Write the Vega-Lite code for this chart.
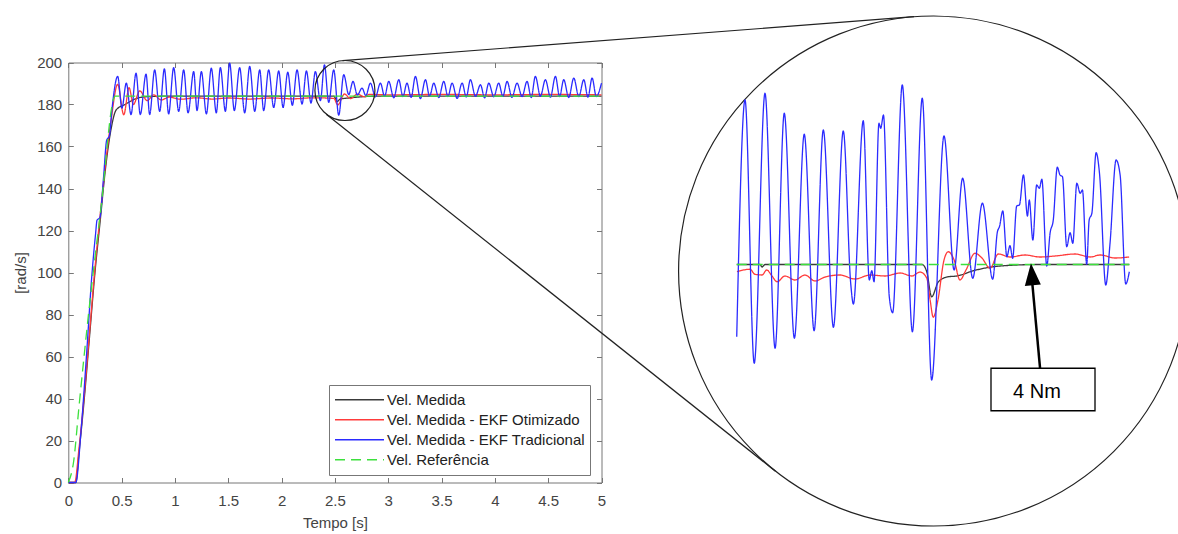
{
  "$schema": "https://vega.github.io/schema/vega-lite/v6.json",
  "width": 1178,
  "height": 534,
  "padding": 0,
  "autosize": {"type": "none"},
  "background": "white",
  "config": {
    "view": {"stroke": null},
    "font": "Liberation Sans",
    "axis": {"grid": false, "labelFont": "Liberation Sans", "titleFont": "Liberation Sans", "labelColor": "#444", "titleColor": "#444", "domainColor": "#777", "tickColor": "#777", "titleFontWeight": "normal", "labelFlush": false, "labelOverlap": false, "domainWidth": 1, "tickWidth": 1},
    "legend": {"padding": 5, "strokeColor": "#777", "fillColor": "white", "symbolType": "stroke", "symbolSize": 2401, "symbolStrokeWidth": 1.5, "labelFontSize": 15, "labelColor": "#222", "labelFont": "Liberation Sans", "rowPadding": 0, "labelOffset": 2, "labelLimit": 400, "clipHeight": 19.7}
  },
  "datasets": {
    "main": [
      {"s":"Vel. Medida","t":0,"v":0},{"s":"Vel. Medida","t":0.07,"v":0},{"s":"Vel. Medida","t":0.1,"v":14},{"s":"Vel. Medida","t":0.15,"v":40},{"s":"Vel. Medida","t":0.2,"v":70},{"s":"Vel. Medida","t":0.25,"v":100},{"s":"Vel. Medida","t":0.3,"v":125},{"s":"Vel. Medida","t":0.35,"v":150},{"s":"Vel. Medida","t":0.4,"v":168},{"s":"Vel. Medida","t":0.45,"v":177.5},{"s":"Vel. Medida","t":0.535,"v":180.1},{"s":"Vel. Medida","t":0.62,"v":182.5},{"s":"Vel. Medida","t":0.73,"v":183.7},{"s":"Vel. Medida","t":1.0,"v":184},{"s":"Vel. Medida","t":2.49,"v":184},{"s":"Vel. Medida","t":2.5,"v":183.4},{"s":"Vel. Medida","t":2.52,"v":181.4},{"s":"Vel. Medida","t":2.55,"v":182.6},{"s":"Vel. Medida","t":2.63,"v":183.1},{"s":"Vel. Medida","t":2.71,"v":183.5},{"s":"Vel. Medida","t":2.83,"v":183.9},{"s":"Vel. Medida","t":3.0,"v":184},{"s":"Vel. Medida","t":5.0,"v":184},
      {"s":"Vel. Medida - EKF Otimizado","t":0,"v":0},{"s":"Vel. Medida - EKF Otimizado","t":0.06,"v":0},{"s":"Vel. Medida - EKF Otimizado","t":0.1,"v":16},{"s":"Vel. Medida - EKF Otimizado","t":0.15,"v":42},{"s":"Vel. Medida - EKF Otimizado","t":0.2,"v":72},{"s":"Vel. Medida - EKF Otimizado","t":0.25,"v":102},{"s":"Vel. Medida - EKF Otimizado","t":0.3,"v":128},{"s":"Vel. Medida - EKF Otimizado","t":0.35,"v":152},{"s":"Vel. Medida - EKF Otimizado","t":0.4,"v":172},{"s":"Vel. Medida - EKF Otimizado","t":0.463,"v":189.6},{"s":"Vel. Medida - EKF Otimizado","t":0.52,"v":175.1},{"s":"Vel. Medida - EKF Otimizado","t":0.57,"v":188},{"s":"Vel. Medida - EKF Otimizado","t":0.61,"v":180},{"s":"Vel. Medida - EKF Otimizado","t":0.67,"v":186.5},{"s":"Vel. Medida - EKF Otimizado","t":0.74,"v":181.8},{"s":"Vel. Medida - EKF Otimizado","t":0.8,"v":184.6},{"s":"Vel. Medida - EKF Otimizado","t":0.87,"v":182.2},{"s":"Vel. Medida - EKF Otimizado","t":0.95,"v":183.5},{"s":"Vel. Medida - EKF Otimizado","t":1.05,"v":182.5},{"s":"Vel. Medida - EKF Otimizado","t":1.2,"v":183.2},{"s":"Vel. Medida - EKF Otimizado","t":1.35,"v":182.6},{"s":"Vel. Medida - EKF Otimizado","t":1.5,"v":183.1},{"s":"Vel. Medida - EKF Otimizado","t":1.7,"v":182.6},{"s":"Vel. Medida - EKF Otimizado","t":1.9,"v":183.1},{"s":"Vel. Medida - EKF Otimizado","t":2.1,"v":182.7},{"s":"Vel. Medida - EKF Otimizado","t":2.3,"v":183.2},{"s":"Vel. Medida - EKF Otimizado","t":2.49,"v":182.9},{"s":"Vel. Medida - EKF Otimizado","t":2.527,"v":179.8},{"s":"Vel. Medida - EKF Otimizado","t":2.59,"v":185},{"s":"Vel. Medida - EKF Otimizado","t":2.645,"v":182.8},{"s":"Vel. Medida - EKF Otimizado","t":2.71,"v":184.9},{"s":"Vel. Medida - EKF Otimizado","t":2.78,"v":183.7},{"s":"Vel. Medida - EKF Otimizado","t":2.82,"v":184.8},{"s":"Vel. Medida - EKF Otimizado","t":3.0,"v":184.6},{"s":"Vel. Medida - EKF Otimizado","t":3.5,"v":184.8},{"s":"Vel. Medida - EKF Otimizado","t":4.0,"v":184.6},{"s":"Vel. Medida - EKF Otimizado","t":4.5,"v":184.8},{"s":"Vel. Medida - EKF Otimizado","t":5.0,"v":184.6},
      {"s":"Vel. Medida - EKF Tradicional","t":0,"v":0},{"s":"Vel. Medida - EKF Tradicional","t":0.07,"v":0},{"s":"Vel. Medida - EKF Tradicional","t":0.12,"v":25},{"s":"Vel. Medida - EKF Tradicional","t":0.17,"v":60},{"s":"Vel. Medida - EKF Tradicional","t":0.22,"v":98},{"s":"Vel. Medida - EKF Tradicional","t":0.255,"v":118},{"s":"Vel. Medida - EKF Tradicional","t":0.27,"v":125},{"s":"Vel. Medida - EKF Tradicional","t":0.295,"v":126},{"s":"Vel. Medida - EKF Tradicional","t":0.33,"v":145},{"s":"Vel. Medida - EKF Tradicional","t":0.36,"v":163},{"s":"Vel. Medida - EKF Tradicional","t":0.385,"v":165},{"s":"Vel. Medida - EKF Tradicional","t":0.41,"v":178},{"s":"Vel. Medida - EKF Tradicional","t":0.463,"v":193.4},
      {"s":"Vel. Medida - EKF Tradicional","t":0.503,"v":178.3},{"s":"Vel. Medida - EKF Tradicional","t":0.544,"v":190.2},{"s":"Vel. Medida - EKF Tradicional","t":0.588,"v":175.2},{"s":"Vel. Medida - EKF Tradicional","t":0.635,"v":194.9},{"s":"Vel. Medida - EKF Tradicional","t":0.675,"v":175.2},{"s":"Vel. Medida - EKF Tradicional","t":0.729,"v":194.5},{"s":"Vel. Medida - EKF Tradicional","t":0.763,"v":175.2},{"s":"Vel. Medida - EKF Tradicional","t":0.81,"v":196.5},{"s":"Vel. Medida - EKF Tradicional","t":0.857,"v":176.7},{"s":"Vel. Medida - EKF Tradicional","t":0.901,"v":197.0},{"s":"Vel. Medida - EKF Tradicional","t":0.941,"v":175.5},{"s":"Vel. Medida - EKF Tradicional","t":0.988,"v":197.6},{"s":"Vel. Medida - EKF Tradicional","t":1.035,"v":176.7},{"s":"Vel. Medida - EKF Tradicional","t":1.082,"v":196.5},{"s":"Vel. Medida - EKF Tradicional","t":1.123,"v":176.0},{"s":"Vel. Medida - EKF Tradicional","t":1.176,"v":195.7},{"s":"Vel. Medida - EKF Tradicional","t":1.207,"v":177.1},{"s":"Vel. Medida - EKF Tradicional","t":1.248,"v":195.7},{"s":"Vel. Medida - EKF Tradicional","t":1.295,"v":175.5},{"s":"Vel. Medida - EKF Tradicional","t":1.341,"v":197.3},{"s":"Vel. Medida - EKF Tradicional","t":1.388,"v":176.0},{"s":"Vel. Medida - EKF Tradicional","t":1.426,"v":197.6},{"s":"Vel. Medida - EKF Tradicional","t":1.473,"v":176.7},{"s":"Vel. Medida - EKF Tradicional","t":1.513,"v":199.7},{"s":"Vel. Medida - EKF Tradicional","t":1.557,"v":177.1},{"s":"Vel. Medida - EKF Tradicional","t":1.607,"v":197.6},{"s":"Vel. Medida - EKF Tradicional","t":1.654,"v":176.0},{"s":"Vel. Medida - EKF Tradicional","t":1.701,"v":198.1},{"s":"Vel. Medida - EKF Tradicional","t":1.748,"v":176.7},{"s":"Vel. Medida - EKF Tradicional","t":1.795,"v":196.5},{"s":"Vel. Medida - EKF Tradicional","t":1.832,"v":177.1},{"s":"Vel. Medida - EKF Tradicional","t":1.879,"v":196.5},{"s":"Vel. Medida - EKF Tradicional","t":1.926,"v":178.6},{"s":"Vel. Medida - EKF Tradicional","t":1.973,"v":196.0},{"s":"Vel. Medida - EKF Tradicional","t":2.014,"v":178.6},{"s":"Vel. Medida - EKF Tradicional","t":2.058,"v":195.4},{"s":"Vel. Medida - EKF Tradicional","t":2.101,"v":179.6},{"s":"Vel. Medida - EKF Tradicional","t":2.145,"v":196.5},{"s":"Vel. Medida - EKF Tradicional","t":2.192,"v":180.2},{"s":"Vel. Medida - EKF Tradicional","t":2.233,"v":196.0},{"s":"Vel. Medida - EKF Tradicional","t":2.276,"v":180.7},{"s":"Vel. Medida - EKF Tradicional","t":2.317,"v":195.7},{"s":"Vel. Medida - EKF Tradicional","t":2.364,"v":181.8},{"s":"Vel. Medida - EKF Tradicional","t":2.402,"v":198.9},{"s":"Vel. Medida - EKF Tradicional","t":2.442,"v":181.0},{"s":"Vel. Medida - EKF Tradicional","t":2.489,"v":196.5},{"s":"Vel. Medida - EKF Tradicional","t":2.536,"v":174.9},{"s":"Vel. Medida - EKF Tradicional","t":2.583,"v":194.2},{"s":"Vel. Medida - EKF Tradicional","t":2.63,"v":184.7},{"s":"Vel. Medida - EKF Tradicional","t":2.67,"v":191.0},{"s":"Vel. Medida - EKF Tradicional","t":2.71,"v":184.5},{"s":"Vel. Medida - EKF Tradicional","t":2.755,"v":187.8},{"s":"Vel. Medida - EKF Tradicional","t":2.79,"v":184.2},{"s":"Vel. Medida - EKF Tradicional","t":2.833,"v":190.2},{"s":"Vel. Medida - EKF Tradicional","t":2.88,"v":183.6},{"s":"Vel. Medida - EKF Tradicional","t":2.927,"v":190.2},{"s":"Vel. Medida - EKF Tradicional","t":2.966,"v":183.9},{"s":"Vel. Medida - EKF Tradicional","t":3.005,"v":191.0},{"s":"Vel. Medida - EKF Tradicional","t":3.052,"v":183.2},{"s":"Vel. Medida - EKF Tradicional","t":3.099,"v":191.8},{"s":"Vel. Medida - EKF Tradicional","t":3.138,"v":183.8},{"s":"Vel. Medida - EKF Tradicional","t":3.176,"v":190.2},{"s":"Vel. Medida - EKF Tradicional","t":3.215,"v":183.4},{"s":"Vel. Medida - EKF Tradicional","t":3.255,"v":193.4},{"s":"Vel. Medida - EKF Tradicional","t":3.302,"v":182.8},{"s":"Vel. Medida - EKF Tradicional","t":3.349,"v":191.8},{"s":"Vel. Medida - EKF Tradicional","t":3.388,"v":183.9},{"s":"Vel. Medida - EKF Tradicional","t":3.427,"v":190.2},{"s":"Vel. Medida - EKF Tradicional","t":3.474,"v":183.3},{"s":"Vel. Medida - EKF Tradicional","t":3.521,"v":191.0},{"s":"Vel. Medida - EKF Tradicional","t":3.56,"v":183.8},{"s":"Vel. Medida - EKF Tradicional","t":3.599,"v":190.2},{"s":"Vel. Medida - EKF Tradicional","t":3.646,"v":182.9},{"s":"Vel. Medida - EKF Tradicional","t":3.693,"v":190.2},{"s":"Vel. Medida - EKF Tradicional","t":3.732,"v":183.6},{"s":"Vel. Medida - EKF Tradicional","t":3.771,"v":191.8},{"s":"Vel. Medida - EKF Tradicional","t":3.818,"v":183.9},{"s":"Vel. Medida - EKF Tradicional","t":3.865,"v":189.4},{"s":"Vel. Medida - EKF Tradicional","t":3.904,"v":183.2},{"s":"Vel. Medida - EKF Tradicional","t":3.943,"v":190.2},{"s":"Vel. Medida - EKF Tradicional","t":3.99,"v":183.7},{"s":"Vel. Medida - EKF Tradicional","t":4.036,"v":190.2},{"s":"Vel. Medida - EKF Tradicional","t":4.075,"v":183.9},{"s":"Vel. Medida - EKF Tradicional","t":4.115,"v":191.0},{"s":"Vel. Medida - EKF Tradicional","t":4.16,"v":183.4},{"s":"Vel. Medida - EKF Tradicional","t":4.208,"v":190.2},{"s":"Vel. Medida - EKF Tradicional","t":4.255,"v":183.8},{"s":"Vel. Medida - EKF Tradicional","t":4.302,"v":191.0},{"s":"Vel. Medida - EKF Tradicional","t":4.341,"v":183.3},{"s":"Vel. Medida - EKF Tradicional","t":4.38,"v":193.4},{"s":"Vel. Medida - EKF Tradicional","t":4.427,"v":183.9},{"s":"Vel. Medida - EKF Tradicional","t":4.474,"v":191.8},{"s":"Vel. Medida - EKF Tradicional","t":4.521,"v":183.5},{"s":"Vel. Medida - EKF Tradicional","t":4.568,"v":193.4},{"s":"Vel. Medida - EKF Tradicional","t":4.607,"v":183.8},{"s":"Vel. Medida - EKF Tradicional","t":4.646,"v":191.8},{"s":"Vel. Medida - EKF Tradicional","t":4.693,"v":183.3},{"s":"Vel. Medida - EKF Tradicional","t":4.74,"v":192.6},{"s":"Vel. Medida - EKF Tradicional","t":4.787,"v":183.8},{"s":"Vel. Medida - EKF Tradicional","t":4.834,"v":191.8},{"s":"Vel. Medida - EKF Tradicional","t":4.873,"v":183.5},{"s":"Vel. Medida - EKF Tradicional","t":4.912,"v":192.6},{"s":"Vel. Medida - EKF Tradicional","t":4.951,"v":183.8},{"s":"Vel. Medida - EKF Tradicional","t":5.0,"v":190.2},
      {"s":"Vel. Referência","t":0,"v":0},{"s":"Vel. Referência","t":0.05,"v":10},{"s":"Vel. Referência","t":0.1,"v":36},{"s":"Vel. Referência","t":0.2,"v":85},{"s":"Vel. Referência","t":0.3,"v":128},{"s":"Vel. Referência","t":0.44,"v":184},{"s":"Vel. Referência","t":5.0,"v":184}
    ],
    "inset": [
      {"s":"Vel. Medida","t":1.651,"v":184},{"s":"Vel. Medida","t":1.755,"v":184},{"s":"Vel. Medida","t":1.764,"v":183.8},{"s":"Vel. Medida","t":1.777,"v":184},{"s":"Vel. Medida","t":2.477,"v":184},{"s":"Vel. Medida","t":2.498,"v":183.42},{"s":"Vel. Medida","t":2.52,"v":181.42},{"s":"Vel. Medida","t":2.55,"v":182.62},{"s":"Vel. Medida","t":2.594,"v":183.02},{"s":"Vel. Medida","t":2.632,"v":183.08},{"s":"Vel. Medida","t":2.706,"v":183.5},{"s":"Vel. Medida","t":2.825,"v":183.88},{"s":"Vel. Medida","t":3.003,"v":184},{"s":"Vel. Medida","t":3.401,"v":184},
      {"s":"Vel. Medida - EKF Otimizado","t":1.652,"v":183.42},{"s":"Vel. Medida - EKF Otimizado","t":1.71,"v":183.62},{"s":"Vel. Medida - EKF Otimizado","t":1.732,"v":183.22},{"s":"Vel. Medida - EKF Otimizado","t":1.764,"v":183.16},{"s":"Vel. Medida - EKF Otimizado","t":1.785,"v":183.56},{"s":"Vel. Medida - EKF Otimizado","t":1.808,"v":183.08},{"s":"Vel. Medida - EKF Otimizado","t":1.831,"v":182.62},{"s":"Vel. Medida - EKF Otimizado","t":1.866,"v":183.08},{"s":"Vel. Medida - EKF Otimizado","t":1.911,"v":182.76},{"s":"Vel. Medida - EKF Otimizado","t":1.955,"v":183.16},{"s":"Vel. Medida - EKF Otimizado","t":2.0,"v":182.68},{"s":"Vel. Medida - EKF Otimizado","t":2.045,"v":183.0},{"s":"Vel. Medida - EKF Otimizado","t":2.111,"v":183.16},{"s":"Vel. Medida - EKF Otimizado","t":2.178,"v":182.84},{"s":"Vel. Medida - EKF Otimizado","t":2.245,"v":183.16},{"s":"Vel. Medida - EKF Otimizado","t":2.312,"v":183.08},{"s":"Vel. Medida - EKF Otimizado","t":2.379,"v":183.32},{"s":"Vel. Medida - EKF Otimizado","t":2.432,"v":183.08},{"s":"Vel. Medida - EKF Otimizado","t":2.468,"v":183.4},{"s":"Vel. Medida - EKF Otimizado","t":2.498,"v":182.92},{"s":"Vel. Medida - EKF Otimizado","t":2.513,"v":181.16},{"s":"Vel. Medida - EKF Otimizado","t":2.527,"v":179.78},{"s":"Vel. Medida - EKF Otimizado","t":2.548,"v":181.16},{"s":"Vel. Medida - EKF Otimizado","t":2.575,"v":184.36},{"s":"Vel. Medida - EKF Otimizado","t":2.594,"v":185.02},{"s":"Vel. Medida - EKF Otimizado","t":2.62,"v":184.36},{"s":"Vel. Medida - EKF Otimizado","t":2.646,"v":182.76},{"s":"Vel. Medida - EKF Otimizado","t":2.673,"v":183.56},{"s":"Vel. Medida - EKF Otimizado","t":2.713,"v":184.9},{"s":"Vel. Medida - EKF Otimizado","t":2.744,"v":184.52},{"s":"Vel. Medida - EKF Otimizado","t":2.78,"v":183.7},{"s":"Vel. Medida - EKF Otimizado","t":2.817,"v":184.84},{"s":"Vel. Medida - EKF Otimizado","t":2.869,"v":184.6},{"s":"Vel. Medida - EKF Otimizado","t":2.936,"v":184.76},{"s":"Vel. Medida - EKF Otimizado","t":3.003,"v":184.6},{"s":"Vel. Medida - EKF Otimizado","t":3.07,"v":184.68},{"s":"Vel. Medida - EKF Otimizado","t":3.159,"v":184.84},{"s":"Vel. Medida - EKF Otimizado","t":3.226,"v":184.6},{"s":"Vel. Medida - EKF Otimizado","t":3.271,"v":184.76},{"s":"Vel. Medida - EKF Otimizado","t":3.338,"v":184.52},{"s":"Vel. Medida - EKF Otimizado","t":3.4,"v":184.6},
      {"s":"Vel. Medida - EKF Tradicional","t":1.651,"v":178.22},{"s":"Vel. Medida - EKF Tradicional","t":1.688,"v":197.16},{"s":"Vel. Medida - EKF Tradicional","t":1.729,"v":176.1},{"s":"Vel. Medida - EKF Tradicional","t":1.777,"v":197.7},{"s":"Vel. Medida - EKF Tradicional","t":1.822,"v":177.3},{"s":"Vel. Medida - EKF Tradicional","t":1.863,"v":196.1},{"s":"Vel. Medida - EKF Tradicional","t":1.908,"v":178.1},{"s":"Vel. Medida - EKF Tradicional","t":1.952,"v":194.42},{"s":"Vel. Medida - EKF Tradicional","t":1.996,"v":178.7},{"s":"Vel. Medida - EKF Tradicional","t":2.037,"v":194.76},{"s":"Vel. Medida - EKF Tradicional","t":2.082,"v":178.98},{"s":"Vel. Medida - EKF Tradicional","t":2.126,"v":194.68},{"s":"Vel. Medida - EKF Tradicional","t":2.159,"v":182.5},{"s":"Vel. Medida - EKF Tradicional","t":2.171,"v":180.84},{"s":"Vel. Medida - EKF Tradicional","t":2.215,"v":195.5},{"s":"Vel. Medida - EKF Tradicional","t":2.242,"v":182.76},{"s":"Vel. Medida - EKF Tradicional","t":2.253,"v":183.5},{"s":"Vel. Medida - EKF Tradicional","t":2.263,"v":182.62},{"s":"Vel. Medida - EKF Tradicional","t":2.285,"v":195.3},{"s":"Vel. Medida - EKF Tradicional","t":2.293,"v":194.9},{"s":"Vel. Medida - EKF Tradicional","t":2.305,"v":195.96},{"s":"Vel. Medida - EKF Tradicional","t":2.331,"v":181.42},{"s":"Vel. Medida - EKF Tradicional","t":2.346,"v":180.14},{"s":"Vel. Medida - EKF Tradicional","t":2.389,"v":198.36},{"s":"Vel. Medida - EKF Tradicional","t":2.434,"v":178.62},{"s":"Vel. Medida - EKF Tradicional","t":2.478,"v":197.3},{"s":"Vel. Medida - EKF Tradicional","t":2.52,"v":174.76},{"s":"Vel. Medida - EKF Tradicional","t":2.575,"v":194.28},{"s":"Vel. Medida - EKF Tradicional","t":2.62,"v":183.56},{"s":"Vel. Medida - EKF Tradicional","t":2.658,"v":190.9},{"s":"Vel. Medida - EKF Tradicional","t":2.703,"v":182.9},{"s":"Vel. Medida - EKF Tradicional","t":2.746,"v":188.9},{"s":"Vel. Medida - EKF Tradicional","t":2.792,"v":182.82},{"s":"Vel. Medida - EKF Tradicional","t":2.813,"v":186.62},{"s":"Vel. Medida - EKF Tradicional","t":2.822,"v":187.02},{"s":"Vel. Medida - EKF Tradicional","t":2.837,"v":188.28},{"s":"Vel. Medida - EKF Tradicional","t":2.855,"v":184.62},{"s":"Vel. Medida - EKF Tradicional","t":2.869,"v":185.5},{"s":"Vel. Medida - EKF Tradicional","t":2.881,"v":184.5},{"s":"Vel. Medida - EKF Tradicional","t":2.899,"v":188.68},{"s":"Vel. Medida - EKF Tradicional","t":2.911,"v":188.76},{"s":"Vel. Medida - EKF Tradicional","t":2.929,"v":191.16},{"s":"Vel. Medida - EKF Tradicional","t":2.947,"v":187.88},{"s":"Vel. Medida - EKF Tradicional","t":2.955,"v":189.16},{"s":"Vel. Medida - EKF Tradicional","t":2.971,"v":185.96},{"s":"Vel. Medida - EKF Tradicional","t":2.988,"v":190.36},{"s":"Vel. Medida - EKF Tradicional","t":3.0,"v":190.1},{"s":"Vel. Medida - EKF Tradicional","t":3.011,"v":190.82},{"s":"Vel. Medida - EKF Tradicional","t":3.033,"v":183.88},{"s":"Vel. Medida - EKF Tradicional","t":3.048,"v":186.54},{"s":"Vel. Medida - EKF Tradicional","t":3.062,"v":187.56},{"s":"Vel. Medida - EKF Tradicional","t":3.08,"v":191.78},{"s":"Vel. Medida - EKF Tradicional","t":3.092,"v":191.16},{"s":"Vel. Medida - EKF Tradicional","t":3.103,"v":191.02},{"s":"Vel. Medida - EKF Tradicional","t":3.122,"v":185.42},{"s":"Vel. Medida - EKF Tradicional","t":3.137,"v":186.54},{"s":"Vel. Medida - EKF Tradicional","t":3.149,"v":185.7},{"s":"Vel. Medida - EKF Tradicional","t":3.167,"v":190.5},{"s":"Vel. Medida - EKF Tradicional","t":3.182,"v":189.7},{"s":"Vel. Medida - EKF Tradicional","t":3.192,"v":189.96},{"s":"Vel. Medida - EKF Tradicional","t":3.211,"v":184.02},{"s":"Vel. Medida - EKF Tradicional","t":3.222,"v":187.56},{"s":"Vel. Medida - EKF Tradicional","t":3.234,"v":188.1},{"s":"Vel. Medida - EKF Tradicional","t":3.253,"v":192.94},{"s":"Vel. Medida - EKF Tradicional","t":3.268,"v":191.3},{"s":"Vel. Medida - EKF Tradicional","t":3.296,"v":182.36},{"s":"Vel. Medida - EKF Tradicional","t":3.315,"v":185.7},{"s":"Vel. Medida - EKF Tradicional","t":3.342,"v":192.36},{"s":"Vel. Medida - EKF Tradicional","t":3.36,"v":191.16},{"s":"Vel. Medida - EKF Tradicional","t":3.385,"v":182.44},{"s":"Vel. Medida - EKF Tradicional","t":3.401,"v":183.42},
      {"s":"Vel. Referência","t":1.651,"v":184},{"s":"Vel. Referência","t":3.401,"v":184}
    ],
    "small": [{"t":2.594,"v":186.67}],
    "big": [{"t":8.114,"v":100.71}],
    "conn": [{"t":2.572,"v":200.9,"t2":7.931,"v2":221.8},{"t":2.419,"v":175.4,"t2":6.631,"v2":5.38}],
    "arrow": [{"t":3.0031,"v":175.7,"t2":2.968,"v2":182.6}],
    "head": [{"t":2.9667,"v":183.22}],
    "box": [{"t":2.7844,"t2":3.248,"v":175.7,"v2":172.3}],
    "label": [{"t":2.9895,"v":173.84,"text":"4 Nm"}]
  },
  "layer": [
    {
      "layer": [
        {
          "data": {"name": "main"},
          "mark": {"type": "line", "strokeWidth": 1.3, "interpolate": "monotone"},
          "encoding": {
            "x": {"field": "t", "type": "quantitative", "scale": {"domain": [0, 5], "range": [68.3, 601.5], "nice": false, "zero": false},
                  "axis": {"orient": "bottom", "offset": -51.5, "values": [0,0.5,1,1.5,2,2.5,3,3.5,4,4.5,5], "format": "~g", "tickSize": -5, "labelPadding": 16, "labelFontSize": 15, "title": "Tempo [s]", "titleFontSize": 15, "titlePadding": 7}},
            "y": {"field": "v", "type": "quantitative", "scale": {"domain": [0, 200], "range": [482.5, 62.5], "nice": false, "zero": false},
                  "axis": {"orient": "left", "offset": -68.3, "values": [0,20,40,60,80,100,120,140,160,180,200], "format": "d", "tickSize": -5, "labelPadding": 11.6, "labelFontSize": 15, "title": "[rad/s]", "titleFontSize": 15, "titlePadding": 8}},
            "color": {"field": "s", "type": "nominal", "scale": {"domain": ["Vel. Medida", "Vel. Medida - EKF Otimizado", "Vel. Medida - EKF Tradicional", "Vel. Referência"], "range": ["#3a3a3a", "#ff3b3b", "#2b2bff", "#3de03d"]},
                      "legend": {"title": null, "orient": "none", "legendX": 329, "legendY": 385}},
            "strokeDash": {"field": "s", "type": "nominal", "scale": {"domain": ["Vel. Medida", "Vel. Medida - EKF Otimizado", "Vel. Medida - EKF Tradicional", "Vel. Referência"], "range": [[1,0],[1,0],[1,0],[10,6]]},
                      "legend": {"title": null, "orient": "none", "legendX": 329, "legendY": 385}}
          }
        },
        {
          "data": {"name": "small"},
          "mark": {"type": "point", "shape": "circle", "filled": false, "size": 3600, "color": "#222", "strokeWidth": 1.2, "opacity": 1},
          "encoding": {
            "x": {"field": "t", "type": "quantitative", "axis": {"orient": "top", "offset": -62.5, "values": [0,0.5,1,1.5,2,2.5,3,3.5,4,4.5,5], "labels": false, "tickSize": -5, "title": null}},
            "y": {"field": "v", "type": "quantitative", "axis": {"orient": "right", "offset": -576.5, "values": [0,20,40,60,80,100,120,140,160,180,200], "labels": false, "tickSize": -5, "title": null}}
          }
        },
        {
          "data": {"name": "big"},
          "mark": {"type": "point", "shape": "circle", "filled": false, "size": 260100, "color": "#222", "strokeWidth": 1.2, "opacity": 1},
          "encoding": {
            "x": {"field": "t", "type": "quantitative", "axis": null},
            "y": {"field": "v", "type": "quantitative", "axis": null}
          }
        },
        {
          "data": {"name": "conn"},
          "mark": {"type": "rule", "color": "#222", "strokeWidth": 1.2},
          "encoding": {
            "x": {"field": "t", "type": "quantitative", "axis": null},
            "y": {"field": "v", "type": "quantitative", "axis": null},
            "x2": {"field": "t2"},
            "y2": {"field": "v2"}
          }
        }
      ],
      "resolve": {"axis": {"x": "independent", "y": "independent"}}
    },
    {
      "layer": [
        {
          "data": {"name": "inset"},
          "mark": {"type": "line", "strokeWidth": 1.3, "interpolate": "monotone"},
          "encoding": {
            "x": {"field": "t", "type": "quantitative", "scale": {"domain": [1.6433, 3.404], "range": [735, 1130], "nice": false, "zero": false},
                  "axis": {"orient": "bottom", "offset": -102.3, "values": [2, 2.5, 3], "format": "~g", "tickSize": -4, "labelPadding": 13, "labelFontSize": 13, "title": "Tempo [s]", "titleFontSize": 15, "titlePadding": 5}},
            "y": {"field": "v", "type": "quantitative", "scale": {"domain": [170.6, 203.56], "range": [432, 20], "nice": false, "zero": false}, "axis": null},
            "color": {"field": "s", "type": "nominal", "scale": {"domain": ["Vel. Medida", "Vel. Medida - EKF Otimizado", "Vel. Medida - EKF Tradicional", "Vel. Referência"], "range": ["#3a3a3a", "#ff3b3b", "#2b2bff", "#3de03d"]},
                      "legend": {"title": null, "orient": "none", "legendX": 329, "legendY": 385}},
            "strokeDash": {"field": "s", "type": "nominal", "scale": {"domain": ["Vel. Medida", "Vel. Medida - EKF Otimizado", "Vel. Medida - EKF Tradicional", "Vel. Referência"], "range": [[1,0],[1,0],[1,0],[10,6]]},
                      "legend": {"title": null, "orient": "none", "legendX": 329, "legendY": 385}}
          }
        },
        {
          "data": {"name": "arrow"},
          "mark": {"type": "rule", "color": "black", "strokeWidth": 2.5},
          "encoding": {
            "x": {"field": "t", "type": "quantitative", "axis": null},
            "y": {"field": "v", "type": "quantitative", "axis": null},
            "x2": {"field": "t2"},
            "y2": {"field": "v2"}
          }
        },
        {
          "data": {"name": "head"},
          "mark": {"type": "point", "shape": "M0,-1L-0.73,1L0.73,1Z", "size": 484, "filled": true, "color": "black", "opacity": 1, "angle": -5},
          "encoding": {
            "x": {"field": "t", "type": "quantitative", "axis": null},
            "y": {"field": "v", "type": "quantitative", "axis": null}
          }
        },
        {
          "data": {"name": "box"},
          "mark": {"type": "rect", "fill": "white", "stroke": "black", "strokeWidth": 1.3},
          "encoding": {
            "x": {"field": "t", "type": "quantitative", "axis": null},
            "x2": {"field": "t2"},
            "y": {"field": "v", "type": "quantitative", "axis": null},
            "y2": {"field": "v2"}
          }
        },
        {
          "data": {"name": "label"},
          "mark": {"type": "text", "font": "Liberation Sans", "fontSize": 20, "color": "black", "align": "center", "baseline": "middle"},
          "encoding": {
            "x": {"field": "t", "type": "quantitative", "axis": null},
            "y": {"field": "v", "type": "quantitative", "axis": null},
            "text": {"field": "text"}
          }
        }
      ]
    }
  ],
  "resolve": {"scale": {"x": "independent", "y": "independent"}}
}
